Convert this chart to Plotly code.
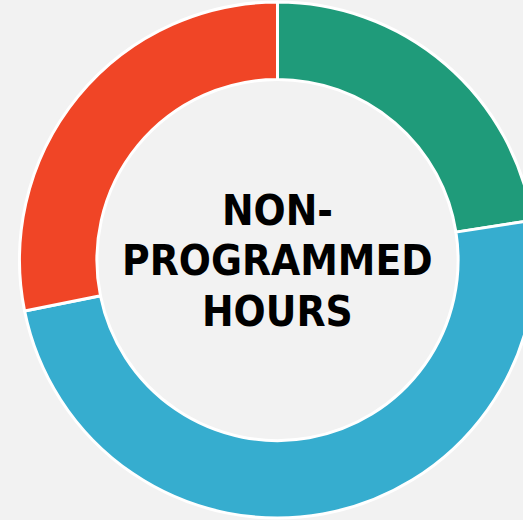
import plotly.graph_objects as go

categories = ["Category A", "Category B", "Category C"]
values = [16, 35, 20]
colors = ["#1f9b7a", "#36adcf", "#f04526"]
center_lines = ["NON-", "PROGRAMMED", "HOURS"]
line_y = [0.5953, 0.4984, 0.4002]

fig = go.Figure(go.Pie(
    labels=categories,
    values=values,
    hole=0.70,
    sort=False,
    direction="clockwise",
    rotation=0,
    marker=dict(colors=colors, line=dict(color="white", width=3)),
    textinfo="none",
    hoverinfo="label+value",
    showlegend=False,
))

for txt, yy in zip(center_lines, line_y):
    fig.add_annotation(
        text=txt, x=0.5, y=yy, xref="paper", yref="paper",
        xanchor="center", yanchor="middle", showarrow=False,
        font=dict(family="DejaVu Sans Condensed, DejaVu Sans", size=42, color="black",
                  weight="bold"),
    )

fig.update_layout(
    width=555, height=520,
    margin=dict(l=0, r=0, t=2, b=2),
    paper_bgcolor="#f2f2f2",
    plot_bgcolor="#f2f2f2",
)

fig.write_html(
    "out.html",
    config={"displayModeBar": False},
    post_script="document.body.style.margin='0';document.body.style.overflow='hidden';document.body.style.background='#f2f2f2';",
)
